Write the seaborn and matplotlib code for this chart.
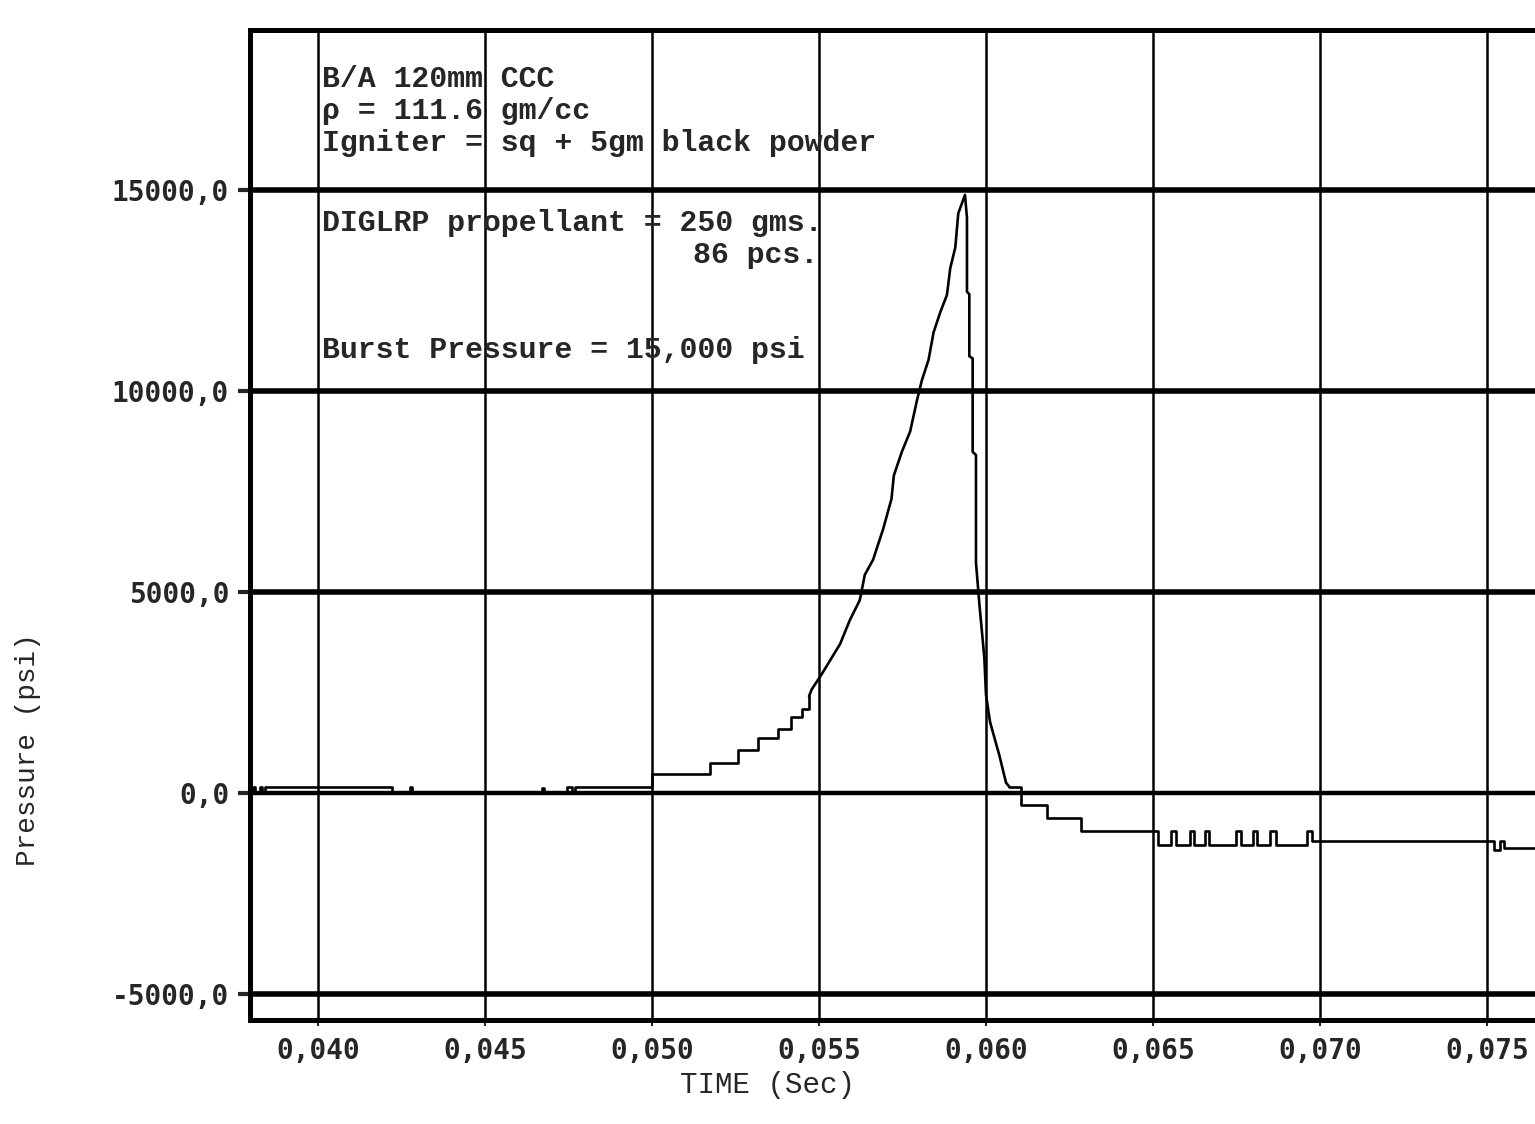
import numpy as np
import pandas as pd
import matplotlib
matplotlib.use('Agg')
import matplotlib.pyplot as plt
import seaborn as sns

# ---------------------------------------------------------
# data (time in s, pressure in psi)
# the trace is a digitiser staircase before/after the burst,
# and a near-continuous line through the peak
# ---------------------------------------------------------
# part 1: baseline + slow staircase rise (drawn as steps)
rise_t = [
    0.03800, 0.03805, 0.03812, 0.03825, 0.03832, 0.03840, 0.04220, 0.04275,
    0.04282, 0.04670, 0.04676, 0.04745, 0.04760, 0.04770, 0.05000, 0.05173,
    0.05257, 0.05317, 0.05376, 0.05416, 0.05450, 0.05470,
]
rise_p = [
    0, 150, 0, 150, 0, 150, 0, 150,
    0, 120, 0, 150, 0, 150, 470, 750,
    1060, 1375, 1585, 1875, 2085, 2400,
]

# part 2: steep rise, peak and fall (drawn as a line)
peak_t = [
    0.05470, 0.05478, 0.05508, 0.05538, 0.05563, 0.05592, 0.05622, 0.05637,
    0.05662, 0.05692, 0.05717, 0.05724, 0.05748, 0.05773, 0.05793, 0.05808,
    0.05828, 0.05843, 0.05863, 0.05883, 0.05893, 0.05908, 0.05917, 0.05937,
    0.05943, 0.05943, 0.05950, 0.05950, 0.05960, 0.05960, 0.05970, 0.05970,
    0.05980, 0.05995, 0.06000, 0.06012, 0.06040, 0.06060, 0.06070,
]
peak_p = [
    2400, 2570, 2950, 3360, 3700, 4290, 4790, 5420,
    5800, 6560, 7310, 7890, 8480, 8990, 9750, 10260,
    10770, 11450, 11950, 12380, 13050, 13560, 14410, 14870,
    14300, 12460, 12400, 10860, 10800, 8480, 8400, 5720,
    4710, 3360, 2440, 1765, 930, 250, 150,
]

# part 3: residual negative staircase (drawn as steps)
tail_t = [
    0.06070, 0.06104, 0.06183, 0.06283, 0.06514,
    0.06555, 0.06568, 0.06610, 0.06624, 0.06655, 0.06668, 0.06750, 0.06763,
    0.06800, 0.06813, 0.06850, 0.06868, 0.06960, 0.06975,
    0.07522, 0.07540, 0.07550, 0.07650,
]
tail_p = [
    150, -300, -625, -960, -1290,
    -960, -1290, -960, -1290, -960, -1290, -960, -1290,
    -960, -1290, -960, -1290, -960, -1190,
    -1420, -1190, -1375, -1375,
]

x_ticks = [0.040, 0.045, 0.050, 0.055, 0.060, 0.065, 0.070, 0.075]
x_tick_labels = ['0,040', '0,045', '0,050', '0,055', '0,060', '0,065', '0,070', '0,075']
y_ticks = [-5000, 0, 5000, 10000, 15000]
y_tick_labels = ['-5000,0', '0,0', '5000,0', '10000,0', '15000,0']

notes = [
    ('B/A 120mm CCC', 17750),
    ('\u03c1 = 111.6 gm/cc', 16960),
    ('Igniter = sq + 5gm black powder', 16160),
    ('DIGLRP propellant = 250 gms.', 14170),
    ('Burst Pressure = 15,000 psi', 11000),
]

parts = [
    (pd.DataFrame({'t': rise_t, 'p': rise_p}), 'steps-post'),
    (pd.DataFrame({'t': peak_t, 'p': peak_p}), 'default'),
    (pd.DataFrame({'t': tail_t, 'p': tail_p}), 'steps-post'),
]

# ---------------------------------------------------------
# plot
# ---------------------------------------------------------
sns.set_style('white')
mono = ['Liberation Mono', 'DejaVu Sans Mono']
plt.rcParams['font.family'] = mono

fig = plt.figure(figsize=(15.35, 11.24), dpi=100)
ax = fig.add_axes([250 / 1535, 1 - 1020 / 1124, 1 - 250 / 1535, (1020 - 30) / 1124])

ax.set_xlim(0.03796, 0.07644)
ax.set_ylim(-5650, 18970)

# heavy plotter grid
for yv in y_ticks:
    ax.axhline(yv, color='black', lw=4.0 if yv != 0 else 3.2, zorder=1)
for xv in x_ticks:
    ax.axvline(xv, color='black', lw=1.8, zorder=1)

for part_df, ds in parts:
    sns.lineplot(data=part_df, x='t', y='p', ax=ax, color='black', lw=1.9,
                 drawstyle=ds, estimator=None, sort=False, zorder=3)

for txt, yv in notes:
    ax.text(0.04012, yv, txt, fontsize=21.5, fontweight='bold', ha='left',
            va='center', family=mono, zorder=4)
ax.text(0.05497, 13370, '86 pcs.', fontsize=21.5, fontweight='bold', ha='right',
        va='center', family=mono, zorder=4)

for side in ['top', 'bottom', 'left']:
    ax.spines[side].set_linewidth(3.6)
    ax.spines[side].set_color('black')
ax.spines['right'].set_visible(False)

ax.set_xticks(x_ticks)
ax.set_xticklabels(x_tick_labels, family='DejaVu Sans Mono', fontsize=20, fontweight='bold')
ax.set_yticks(y_ticks)
ax.set_yticklabels(y_tick_labels, family='DejaVu Sans Mono', fontsize=20, fontweight='bold')
ax.tick_params(axis='y', direction='out', length=9, width=3, pad=6, left=True)
ax.tick_params(axis='x', direction='out', length=4, width=1.5, pad=8, bottom=True)

ax.set_xlabel('')
ax.set_ylabel('')
fig.text(680 / 1535, 1 - 1085 / 1124, 'TIME (Sec)', fontsize=21, ha='left', va='center')
fig.text(28 / 1535, 1 - 750 / 1124, 'Pressure (psi)', fontsize=20, rotation=90,
         ha='center', va='center')

fig.savefig('out.png', dpi=100)
